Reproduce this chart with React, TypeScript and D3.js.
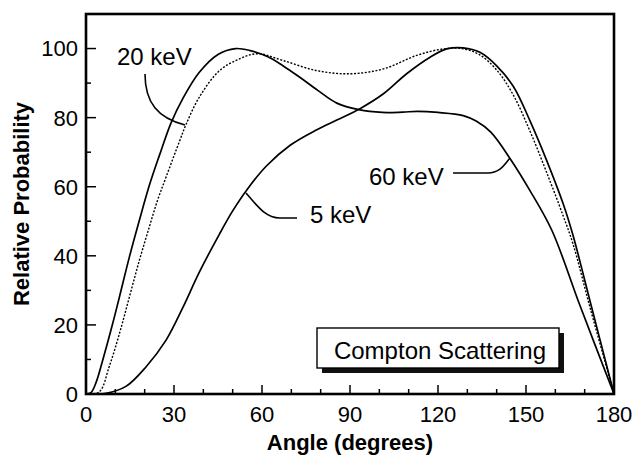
import React from "react";
import * as d3 from "d3";

const xTicks = [0, 30, 60, 90, 120, 150, 180];
const yTicks = [0, 20, 40, 60, 80, 100];

// 60 keV (solid, early peak)
const angles60 = [0, 1.7, 3.5, 5.7, 9.1, 11.4, 14.8, 18.2, 21.6, 25, 29, 33, 38.5, 45, 51, 56, 62, 67, 73, 79, 85.5, 93, 101, 108, 113, 120, 128.6, 133, 138, 144.6, 151.4, 158.8, 168.4, 180];
const values60 = [0, 0.4, 3.5, 9.8, 20.4, 28.1, 39.7, 50.3, 60.4, 69, 78.5, 85.5, 93, 98.3, 100, 99.4, 97.6, 95.1, 91.6, 87.9, 84.2, 82.3, 81.5, 81.6, 81.8, 81.5, 80.6, 79, 75.8, 68.1, 58.8, 47.4, 25.6, 0];

// 20 keV (dotted)
const angles20 = [0, 4.5, 7.9, 11.4, 14.8, 18.2, 21.6, 24.4, 27.3, 31.8, 34.1, 38.6, 45.5, 52.3, 58.5, 67.3, 78.7, 90, 101.4, 112.7, 121.8, 128, 134, 140, 145.7, 151.4, 157.1, 162.7, 166, 172, 180];
const values20 = [0, 0.6, 7.9, 17.5, 28.1, 38.7, 48.4, 56.1, 62.8, 73, 78, 85.9, 93.6, 97, 98.5, 96.5, 93.6, 92.7, 94.1, 98, 99.9, 100, 98.3, 93.8, 86.5, 76, 64, 51.5, 43.5, 24.5, 0];

// 5 keV (solid, late peak)
const angles5 = [0, 6.8, 13.6, 20.5, 27.3, 33, 38.6, 45.5, 50, 55, 61.5, 69.6, 78.7, 85.5, 93.4, 101.4, 109.3, 117.3, 123, 128.6, 134.3, 140, 145.7, 151.4, 157.1, 162.7, 166, 171.8, 180];
const values5 = [0, 0.2, 2.2, 7.9, 15.6, 25, 35.2, 46.3, 53, 59.3, 66, 72, 76.5, 79.3, 82.6, 86.9, 92.7, 97.5, 99.9, 100.2, 98.9, 95, 89, 79, 67.5, 55, 46, 27, 0];

const W = 634;
const H = 458;
const left = 86, right = 614, top = 14, bottom = 394;

export default function App() {
  const x = d3.scaleLinear().domain([0, 180]).range([left, right]);
  const y = d3.scaleLinear().domain([0, 110]).range([bottom, top]);
  const line = d3
    .line<[number, number]>()
    .x((d) => x(d[0]))
    .y((d) => y(d[1]))
    .curve(d3.curveCatmullRom.alpha(0.5));
  const mk = (a: number[], v: number[]) => a.map((ang, i) => [ang, v[i]] as [number, number]);

  const xMinor = d3.range(10, 180, 10).filter((t) => t % 30 !== 0);
  const yMinor = d3.range(10, 110, 10).filter((t) => t % 20 !== 0);
  const font = "'Liberation Sans', Arial, Helvetica, sans-serif";

  return (
    <svg
      width={W}
      height={H}
      style={{ position: "fixed", left: 0, top: 0, display: "block", background: "#fff" }}
      fontFamily={font}
    >
      <rect x={0} y={0} width={W} height={H} fill="#fff" />

      {/* curves */}
      <path d={line(mk(angles5, values5)) || ""} fill="none" stroke="#000" strokeWidth={1.7} />
      <path d={line(mk(angles60, values60)) || ""} fill="none" stroke="#000" strokeWidth={1.7} />
      <path d={line(mk(angles20, values20)) || ""} fill="none" stroke="#000" strokeWidth={1.4} strokeDasharray="2,1.6" />

      {/* ticks */}
      {xTicks.map((t) => (
        <line key={"xt" + t} x1={x(t)} x2={x(t)} y1={bottom} y2={bottom - 9} stroke="#000" strokeWidth={1.5} />
      ))}
      {xMinor.map((t) => (
        <line key={"xm" + t} x1={x(t)} x2={x(t)} y1={bottom} y2={bottom - 5} stroke="#000" strokeWidth={1.5} />
      ))}
      {yTicks.map((t) => (
        <line key={"yt" + t} x1={left} x2={left + 10} y1={y(t)} y2={y(t)} stroke="#000" strokeWidth={1.5} />
      ))}
      {yMinor.map((t) => (
        <line key={"ym" + t} x1={left} x2={left + 5} y1={y(t)} y2={y(t)} stroke="#000" strokeWidth={1.5} />
      ))}

      {/* frame */}
      <rect x={left} y={top} width={right - left} height={bottom - top} fill="none" stroke="#000" strokeWidth={2.6} />

      {/* tick labels */}
      {xTicks.map((t) => (
        <text key={"xl" + t} x={x(t)} y={422} textAnchor="middle" fontSize={22} fill="#000">
          {t}
        </text>
      ))}
      {yTicks.map((t) => (
        <text key={"yl" + t} x={78} y={y(t)} dy="0.36em" textAnchor="end" fontSize={22} fill="#000">
          {t}
        </text>
      ))}

      {/* axis titles */}
      <text x={(left + right) / 2} y={450} textAnchor="middle" fontSize={22} fontWeight="bold" fill="#000">
        Angle (degrees)
      </text>
      <text
        transform={`translate(29,${(top + bottom) / 2}) rotate(-90)`}
        textAnchor="middle"
        fontSize={22}
        fontWeight="bold"
        fill="#000"
      >
        Relative Probability
      </text>

      {/* annotations */}
      <text x={117} y={65} fontSize={24} fill="#000">20 keV</text>
      <path d="M145,74 C145,103 158,118 185,125" fill="none" stroke="#000" strokeWidth={1.6} />

      <text x={310} y={223} fontSize={24} fill="#000">5 keV</text>
      <path d="M246,193 C258,207 266,218 280,218 L297,218" fill="none" stroke="#000" strokeWidth={1.6} />

      <text x={369} y={185} fontSize={24} fill="#000">60 keV</text>
      <path d="M453,173 L488,173 C500,173 504,165 510,158" fill="none" stroke="#000" strokeWidth={1.6} />

      {/* legend box */}
      <rect x={322} y={333} width={242} height={40} fill="#111" />
      <rect x={317} y={328} width={242} height={40} fill="#fff" stroke="#000" strokeWidth={1.4} />
      <text x={440} y={359} textAnchor="middle" fontSize={24} fill="#000">Compton Scattering</text>
    </svg>
  );
}
